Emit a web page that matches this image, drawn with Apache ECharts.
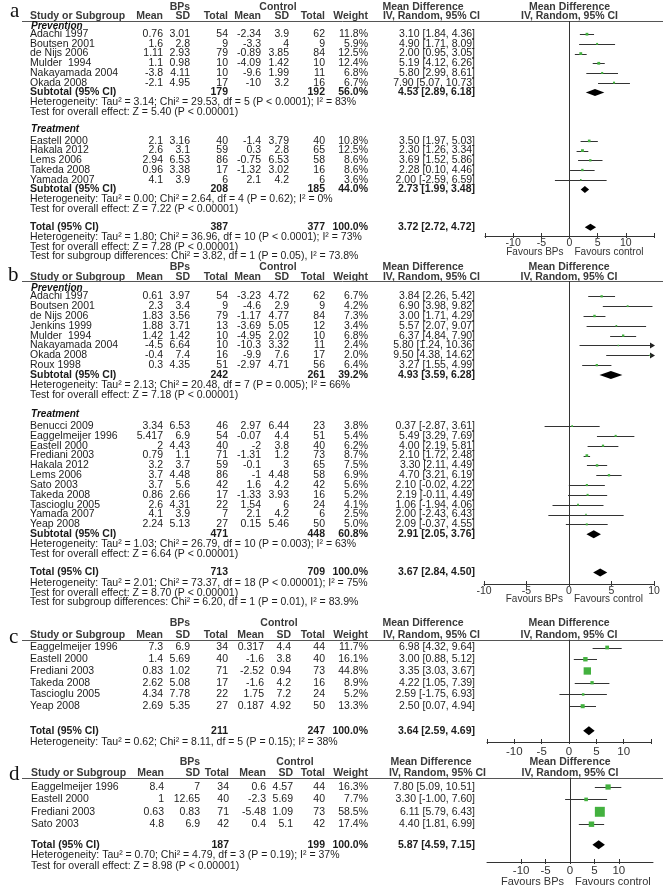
<!DOCTYPE html>
<html>
<head>
<meta charset="utf-8">
<script src="https://cdn.jsdelivr.net/npm/echarts@6/dist/echarts.min.js"></script>
<style>
  html, body { margin: 0; padding: 0; background: #fff; }
  #main { width: 670px; height: 891px; }
</style>
</head>
<body>
<div id="main"></div>
<script>
// study rows: name, BPs mean, SD, total, control mean, SD, total, weight %, MD, lower, upper
var aPrevention = [
  ['Adachi 1997', 0.76, 3.01, 54, -2.34, 3.9, 62, 11.8, 3.10, 1.84, 4.36],
  ['Boutsen 2001', 1.6, 2.8, 9, -3.3, 4, 9, 5.9, 4.90, 1.71, 8.09],
  ['de Nijs 2006', 1.11, 2.93, 79, -0.89, 3.85, 84, 12.5, 2.00, 0.95, 3.05],
  ['Mulder  1994', 1.1, 0.98, 10, -4.09, 1.42, 10, 12.4, 5.19, 4.12, 6.26],
  ['Nakayamada 2004', -3.8, 4.11, 10, -9.6, 1.99, 11, 6.8, 5.80, 2.99, 8.61],
  ['Okada 2008', -2.1, 4.95, 17, -10, 3.2, 16, 6.7, 7.90, 5.07, 10.73]
];
var aTreatment = [
  ['Eastell 2000', 2.1, 3.16, 40, -1.4, 3.79, 40, 10.8, 3.50, 1.97, 5.03],
  ['Hakala 2012', 2.6, 3.1, 59, 0.3, 2.8, 65, 12.5, 2.30, 1.26, 3.34],
  ['Lems 2006', 2.94, 6.53, 86, -0.75, 6.53, 58, 8.6, 3.69, 1.52, 5.86],
  ['Takeda 2008', 0.96, 3.38, 17, -1.32, 3.02, 16, 8.6, 2.28, 0.10, 4.46],
  ['Yamada 2007', 4.1, 3.9, 6, 2.1, 4.2, 6, 3.6, 2.00, -2.59, 6.59]
];
// pooled rows: label, BPs total, control total, weight %, MD, lower, upper
var aPooled = [
  ['Subtotal (95% CI)', 179, 192, 56.0, 4.53, 2.89, 6.18],
  ['Subtotal (95% CI)', 208, 185, 44.0, 2.73, 1.99, 3.48],
  ['Total (95% CI)', 387, 377, 100.0, 3.72, 2.72, 4.72]
];
var aNotes = [
  'Heterogeneity: Tau² = 3.14; Chi² = 29.53, df = 5 (P < 0.0001); I² = 83%',
  'Test for overall effect: Z = 5.40 (P < 0.00001)',
  'Heterogeneity: Tau² = 0.00; Chi² = 2.64, df = 4 (P = 0.62); I² = 0%',
  'Test for overall effect: Z = 7.22 (P < 0.00001)',
  'Heterogeneity: Tau² = 1.80; Chi² = 36.96, df = 10 (P < 0.0001); I² = 73%',
  'Test for overall effect: Z = 7.28 (P < 0.00001)',
  'Test for subgroup differences: Chi² = 3.82, df = 1 (P = 0.05), I² = 73.8%'
];

var bPrevention = [
  ['Adachi 1997', 0.61, 3.97, 54, -3.23, 4.72, 62, 6.7, 3.84, 2.26, 5.42],
  ['Boutsen 2001', 2.3, 3.4, 9, -4.6, 2.9, 9, 4.2, 6.90, 3.98, 9.82],
  ['de Nijs 2006', 1.83, 3.56, 79, -1.17, 4.77, 84, 7.3, 3.00, 1.71, 4.29],
  ['Jenkins 1999', 1.88, 3.71, 13, -3.69, 5.05, 12, 3.4, 5.57, 2.07, 9.07],
  ['Mulder  1994', 1.42, 1.42, 10, -4.95, 2.02, 10, 6.8, 6.37, 4.84, 7.90],
  ['Nakayamada 2004', -4.5, 6.64, 10, -10.3, 3.32, 11, 2.4, 5.80, 1.24, 10.36],
  ['Okada 2008', -0.4, 7.4, 16, -9.9, 7.6, 17, 2.0, 9.50, 4.38, 14.62],
  ['Roux 1998', 0.3, 4.35, 51, -2.97, 4.71, 56, 6.4, 3.27, 1.55, 4.99]
];
var bTreatment = [
  ['Benucci 2009', 3.34, 6.53, 46, 2.97, 6.44, 23, 3.8, 0.37, -2.87, 3.61],
  ['Eaggelmeijer 1996', 5.417, 6.9, 54, -0.07, 4.4, 51, 5.4, 5.49, 3.29, 7.69],
  ['Eastell 2000', 2, 4.43, 40, -2, 3.8, 40, 6.2, 4.00, 2.19, 5.81],
  ['Frediani 2003', 0.79, 1.1, 71, -1.31, 1.2, 73, 8.7, 2.10, 1.72, 2.48],
  ['Hakala 2012', 3.2, 3.7, 59, -0.1, 3, 65, 7.5, 3.30, 2.11, 4.49],
  ['Lems 2006', 3.7, 4.48, 86, -1, 4.48, 58, 6.9, 4.70, 3.21, 6.19],
  ['Sato 2003', 3.7, 5.6, 42, 1.6, 4.2, 42, 5.6, 2.10, -0.02, 4.22],
  ['Takeda 2008', 0.86, 2.66, 17, -1.33, 3.93, 16, 5.2, 2.19, -0.11, 4.49],
  ['Tascioglu 2005', 2.6, 4.31, 22, 1.54, 6, 24, 4.1, 1.06, -1.94, 4.06],
  ['Yamada 2007', 4.1, 3.9, 7, 2.1, 4.2, 6, 2.5, 2.00, -2.43, 6.43],
  ['Yeap 2008', 2.24, 5.13, 27, 0.15, 5.46, 50, 5.0, 2.09, -0.37, 4.55]
];
var bPooled = [
  ['Subtotal (95% CI)', 242, 261, 39.2, 4.93, 3.59, 6.28],
  ['Subtotal (95% CI)', 471, 448, 60.8, 2.91, 2.05, 3.76],
  ['Total (95% CI)', 713, 709, 100.0, 3.67, 2.84, 4.50]
];
var bNotes = [
  'Heterogeneity: Tau² = 2.13; Chi² = 20.48, df = 7 (P = 0.005); I² = 66%',
  'Test for overall effect: Z = 7.18 (P < 0.00001)',
  'Heterogeneity: Tau² = 1.03; Chi² = 26.79, df = 10 (P = 0.003); I² = 63%',
  'Test for overall effect: Z = 6.64 (P < 0.00001)',
  'Heterogeneity: Tau² = 2.01; Chi² = 73.37, df = 18 (P < 0.00001); I² = 75%',
  'Test for overall effect: Z = 8.70 (P < 0.00001)',
  'Test for subgroup differences: Chi² = 6.20, df = 1 (P = 0.01), I² = 83.9%'
];

var cStudies = [
  ['Eaggelmeijer 1996', 7.3, 6.9, 34, 0.317, 4.4, 44, 11.7, 6.98, 4.32, 9.64],
  ['Eastell 2000', 1.4, 5.69, 40, -1.6, 3.8, 40, 16.1, 3.00, 0.88, 5.12],
  ['Frediani 2003', 0.83, 1.02, 71, -2.52, 0.94, 73, 44.8, 3.35, 3.03, 3.67],
  ['Takeda 2008', 2.62, 5.08, 17, -1.6, 4.2, 16, 8.9, 4.22, 1.05, 7.39],
  ['Tascioglu 2005', 4.34, 7.78, 22, 1.75, 7.2, 24, 5.2, 2.59, -1.75, 6.93],
  ['Yeap 2008', 2.69, 5.35, 27, 0.187, 4.92, 50, 13.3, 2.50, 0.07, 4.94]
];
var cPooled = [['Total (95% CI)', 211, 247, 100.0, 3.64, 2.59, 4.69]];
var cNotes = ['Heterogeneity: Tau² = 0.62; Chi² = 8.11, df = 5 (P = 0.15); I² = 38%'];

var dStudies = [
  ['Eaggelmeijer 1996', 8.4, 7, 34, 0.6, 4.57, 44, 16.3, 7.80, 5.09, 10.51],
  ['Eastell 2000', 1, 12.65, 40, -2.3, 5.69, 40, 7.7, 3.30, -1.00, 7.60],
  ['Frediani 2003', 0.63, 0.83, 71, -5.48, 1.09, 73, 58.5, 6.11, 5.79, 6.43],
  ['Sato 2003', 4.8, 6.9, 42, 0.4, 5.1, 42, 17.4, 4.40, 1.81, 6.99]
];
var dPooled = [['Total (95% CI)', 187, 199, 100.0, 5.87, 4.59, 7.15]];
var dNotes = [
  'Heterogeneity: Tau² = 0.70; Chi² = 4.79, df = 3 (P = 0.19); I² = 37%',
  'Test for overall effect: Z = 8.98 (P < 0.00001)'
];

var ticksWide = [-15, -10, -5, 0, 5, 10, 15];
var ticksTen = [-10, -5, 0, 5, 10];

var FONT = '"Liberation Sans", Arial, Helvetica, sans-serif';
var SERIF = '"Liberation Serif", "DejaVu Serif", serif';
var GREEN = '#43b13f';
var FS = 10.5;

// column x positions (right edges, except name)
var colsAB = {name: 30, m1: 163, s1: 190, n1: 228, m2: 261, s2: 289, n2: 325, w: 368, ci: 475, bps: 180, ctl: 278, md: 423, iv: 480};
var colsC = {name: 30, m1: 163, s1: 190, n1: 228, m2: 264, s2: 291, n2: 325, w: 368, ci: 475, bps: 180, ctl: 279, md: 423, iv: 480};
var colsD = {name: 31, m1: 164, s1: 200, n1: 229, m2: 266, s2: 293, n2: 325, w: 368, ci: 475, bps: 190, ctl: 295, md: 431, iv: 486};

var panels = [
  {letter: 'a', lx: 10, ly: 11, cols: colsAB, y0: 24.5, pitch: 9.7, head1: 7, head2: 16, rule: 21, axisY: 236,
   gl: 485, gw: 169, xMin: -15, xMax: 15, ticks: ticksWide, labels: ticksTen, tf: 10.5, lm: 2, favY: 252, favF: 10,
   boxK: 0.8, diaH: 3.5,
   layout: [
     [0, 'group', 'Prevention'], [1, 'studies', aPrevention], [7, 'pooled', aPooled[0]],
     [8, 'note', aNotes[0]], [9, 'note', aNotes[1]],
     [10.67, 'group', 'Treatment'], [12, 'studies', aTreatment], [17, 'pooled', aPooled[1]],
     [18, 'note', aNotes[2]], [19, 'note', aNotes[3]],
     [20.9, 'pooled', aPooled[2]], [21.9, 'note', aNotes[4]], [22.9, 'note', aNotes[5]], [23.85, 'note', aNotes[6]]
   ]},
  {letter: 'b', lx: 8, ly: 275, cols: colsAB, y0: 286.5, pitch: 9.83, head1: 267, head2: 277, rule: 281, axisY: 584,
   gl: 484, gw: 170, xMin: -10, xMax: 10, ticks: ticksTen, labels: ticksTen, tf: 10.5, lm: 1.5, favY: 599, favF: 10,
   boxK: 0.9, diaH: 4,
   layout: [
     [0, 'group', 'Prevention'], [1, 'studies', bPrevention], [9, 'pooled', bPooled[0]],
     [10, 'note', bNotes[0]], [11, 'note', bNotes[1]],
     [12.8, 'group', 'Treatment'], [14.2, 'studies', bTreatment], [25.2, 'pooled', bPooled[1]],
     [26.2, 'note', bNotes[2]], [27.2, 'note', bNotes[3]],
     [29.1, 'pooled', bPooled[2]], [30.15, 'note', bNotes[4]], [31.15, 'note', bNotes[5]], [32.15, 'note', bNotes[6]]
   ]},
  {letter: 'c', lx: 9, ly: 637, cols: colsC, y0: 647.5, pitch: 11.74, head1: 623, head2: 635, rule: 639.5, axisY: 742,
   gl: 487, gw: 164, xMin: -15, xMax: 15, ticks: ticksWide, labels: ticksTen, tf: 11.5, lm: 4, favY: null, favF: 11,
   boxK: 1.1, diaH: 4.5,
   layout: [[0, 'studies', cStudies], [7.1, 'pooled', cPooled[0]], [8.05, 'note', cNotes[0]]]},
  {letter: 'd', lx: 9, ly: 774, cols: colsD, y0: 787, pitch: 12.4, head1: 761.7, head2: 772.7, rule: 777.5, axisY: 862,
   gl: 487, gw: 166, xMin: -17, xMax: 17, ticks: ticksTen, labels: ticksTen, tf: 11.5, lm: 3, favY: 881.5, favF: 11,
   boxK: 1.3, diaH: 4.5,
   layout: [[0, 'studies', dStudies], [4.65, 'pooled', dPooled[0]], [5.5, 'note', dNotes[0]], [6.4, 'note', dNotes[1]]]}
];

var gfx = [], grids = [], xAxes = [], yAxes = [], series = [];

function txt(x, y, s, o) {
  o = o || {};
  gfx.push({
    type: 'text', x: x, y: y, silent: true,
    style: {
      text: s, fill: o.color || '#1c1c1c', align: o.align || 'left', verticalAlign: 'middle',
      font: (o.italic ? 'italic ' : '') + (o.bold ? 'bold ' : '') + (o.size || FS) + 'px ' + (o.family || FONT)
    }
  });
}
function ci(md, lo, hi) {
  return md.toFixed(2) + ' [' + lo.toFixed(2) + ', ' + hi.toFixed(2) + ']';
}

function forestRender(k) {
  return function (params, api) {
    var row = api.value(1);
    var cs = params.coordSys;
    var pe = api.coord([api.value(0), row]);
    var p0 = api.coord([api.value(2), row]);
    var p1 = api.coord([api.value(3), row]);
    var y = Math.round(pe[1]) + 0.5;
    var right = cs.x + cs.width;
    var x0 = Math.max(p0[0], cs.x), x1 = Math.min(p1[0], right);
    var kids = [{type: 'line', shape: {x1: x0, y1: y, x2: x1, y2: y}, style: {stroke: '#333', lineWidth: 1}}];
    if (p1[0] > right) {
      kids.push({type: 'polygon', shape: {points: [[right - 4, y - 3], [right + 1, y], [right - 4, y + 3]]}, style: {fill: '#222'}});
    }
    var s = k * Math.sqrt(api.value(4));
    kids.push({type: 'rect', shape: {x: pe[0] - s / 2, y: pe[1] - s / 2, width: s, height: s}, style: {fill: GREEN}});
    return {type: 'group', children: kids};
  };
}
function diamondRender(h) {
  return function (params, api) {
    var row = api.value(1);
    var c = api.coord([api.value(0), row]);
    var l = api.coord([api.value(2), row]);
    var r = api.coord([api.value(3), row]);
    return {type: 'polygon', shape: {points: [[l[0], c[1]], [c[0], c[1] - h], [r[0], c[1]], [c[0], c[1] + h]]}, style: {fill: '#000'}};
  };
}

panels.forEach(function (p, pi) {
  var c = p.cols;
  var rowY = function (i) { return p.y0 + i * p.pitch; };
  var zeroX = p.gl + (0 - p.xMin) / (p.xMax - p.xMin) * p.gw;
  var hc = '#3a3a3a';

  // panel letter and headers
  txt(p.lx, p.ly, p.letter, {size: 21, family: SERIF, color: '#111'});
  txt(c.bps, p.head1, 'BPs', {bold: true, align: 'center', color: hc});
  txt(c.ctl, p.head1, 'Control', {bold: true, align: 'center', color: hc});
  txt(c.md, p.head1, 'Mean Difference', {bold: true, align: 'center', color: hc});
  txt(zeroX, p.head1, 'Mean Difference', {bold: true, align: 'center', color: hc});
  txt(c.name, p.head2, 'Study or Subgroup', {bold: true, color: hc});
  txt(c.m1, p.head2, 'Mean', {bold: true, align: 'right', color: hc});
  txt(c.s1, p.head2, 'SD', {bold: true, align: 'right', color: hc});
  txt(c.n1, p.head2, 'Total', {bold: true, align: 'right', color: hc});
  txt(c.m2, p.head2, 'Mean', {bold: true, align: 'right', color: hc});
  txt(c.s2, p.head2, 'SD', {bold: true, align: 'right', color: hc});
  txt(c.n2, p.head2, 'Total', {bold: true, align: 'right', color: hc});
  txt(c.w, p.head2, 'Weight', {bold: true, align: 'right', color: hc});
  txt(c.iv, p.head2, 'IV, Random, 95% CI', {bold: true, align: 'right', color: hc});
  txt(zeroX, p.head2, 'IV, Random, 95% CI', {bold: true, align: 'center', color: hc});
  var ry = Math.round(p.rule) + 0.5;
  gfx.push({type: 'line', silent: true, shape: {x1: 22, y1: ry, x2: 663, y2: ry}, style: {stroke: '#555', lineWidth: 1}});

  if (p.favY) {
    txt(zeroX - 6, p.favY, 'Favours BPs', {align: 'right', size: p.favF, color: '#333'});
    txt(zeroX + 5, p.favY, 'Favours control', {size: p.favF, color: '#333'});
  }

  var forest = [], dia = [];
  p.layout.forEach(function (L) {
    var idx = L[0], kind = L[1], d = L[2];
    if (kind === 'group') {
      txt(c.name + 1, rowY(idx) + 1.5, d, {bold: true, italic: true, size: 10, color: '#111'});
    } else if (kind === 'note') {
      txt(c.name, rowY(idx), d);
    } else if (kind === 'studies') {
      d.forEach(function (s, j) {
        var y = rowY(idx + j);
        txt(c.name, y, s[0]);
        txt(c.m1, y, String(s[1]), {align: 'right'});
        txt(c.s1, y, String(s[2]), {align: 'right'});
        txt(c.n1, y, String(s[3]), {align: 'right'});
        txt(c.m2, y, String(s[4]), {align: 'right'});
        txt(c.s2, y, String(s[5]), {align: 'right'});
        txt(c.n2, y, String(s[6]), {align: 'right'});
        txt(c.w, y, s[7].toFixed(1) + '%', {align: 'right'});
        txt(c.ci, y, ci(s[8], s[9], s[10]), {align: 'right'});
        forest.push([s[8], idx + j, s[9], s[10], s[7]]);
      });
    } else if (kind === 'pooled') {
      var y = rowY(idx);
      txt(c.name, y, d[0], {bold: true});
      txt(c.n1, y, String(d[1]), {bold: true, align: 'right'});
      txt(c.n2, y, String(d[2]), {bold: true, align: 'right'});
      txt(c.w, y, d[3].toFixed(1) + '%', {bold: true, align: 'right'});
      txt(c.ci, y, ci(d[4], d[5], d[6]), {bold: true, align: 'right'});
      dia.push([d[4], idx, d[5], d[6]]);
    }
  });

  grids.push({left: p.gl, width: p.gw, top: p.rule, height: p.axisY - p.rule, containLabel: false});
  yAxes.push({gridIndex: pi, type: 'value', inverse: true, show: false,
    min: (p.rule - p.y0) / p.pitch, max: (p.axisY - p.y0) / p.pitch});
  var xi = xAxes.length;
  xAxes.push({
    gridIndex: pi, type: 'value', position: 'bottom', min: p.xMin, max: p.xMax,
    axisLine: {show: true, onZero: false, lineStyle: {color: '#333', width: 1}},
    axisTick: {show: true, customValues: p.ticks, length: 2, lineStyle: {color: '#333'}},
    axisLabel: {customValues: p.labels, margin: p.lm, fontSize: p.tf, color: '#333', fontFamily: FONT},
    splitLine: {show: false}
  });
  xAxes.push({
    gridIndex: pi, type: 'value', position: 'bottom', min: p.xMin, max: p.xMax,
    axisLine: {show: false, onZero: false},
    axisTick: {show: true, inside: true, customValues: p.ticks, length: 3, lineStyle: {color: '#333'}},
    axisLabel: {show: false},
    splitLine: {show: false}
  });

  series.push({
    type: 'custom', xAxisIndex: xi, yAxisIndex: pi, silent: true, z: 3,
    renderItem: forestRender(p.boxK), data: forest, encode: {x: 0, y: 1},
    markLine: {silent: true, symbol: 'none', label: {show: false},
      lineStyle: {color: '#333', width: 1, type: 'solid'}, data: [{xAxis: 0}]}
  });
  series.push({
    type: 'custom', xAxisIndex: xi, yAxisIndex: pi, silent: true, z: 4,
    renderItem: diamondRender(p.diaH), data: dia, encode: {x: 0, y: 1}
  });
});

var chart = echarts.init(document.getElementById('main'));
chart.setOption({
  backgroundColor: '#fff',
  animation: false,
  grid: grids,
  xAxis: xAxes,
  yAxis: yAxes,
  series: series,
  graphic: {elements: gfx}
});
window.addEventListener('resize', function () { chart.resize(); });
</script>
</body>
</html>
